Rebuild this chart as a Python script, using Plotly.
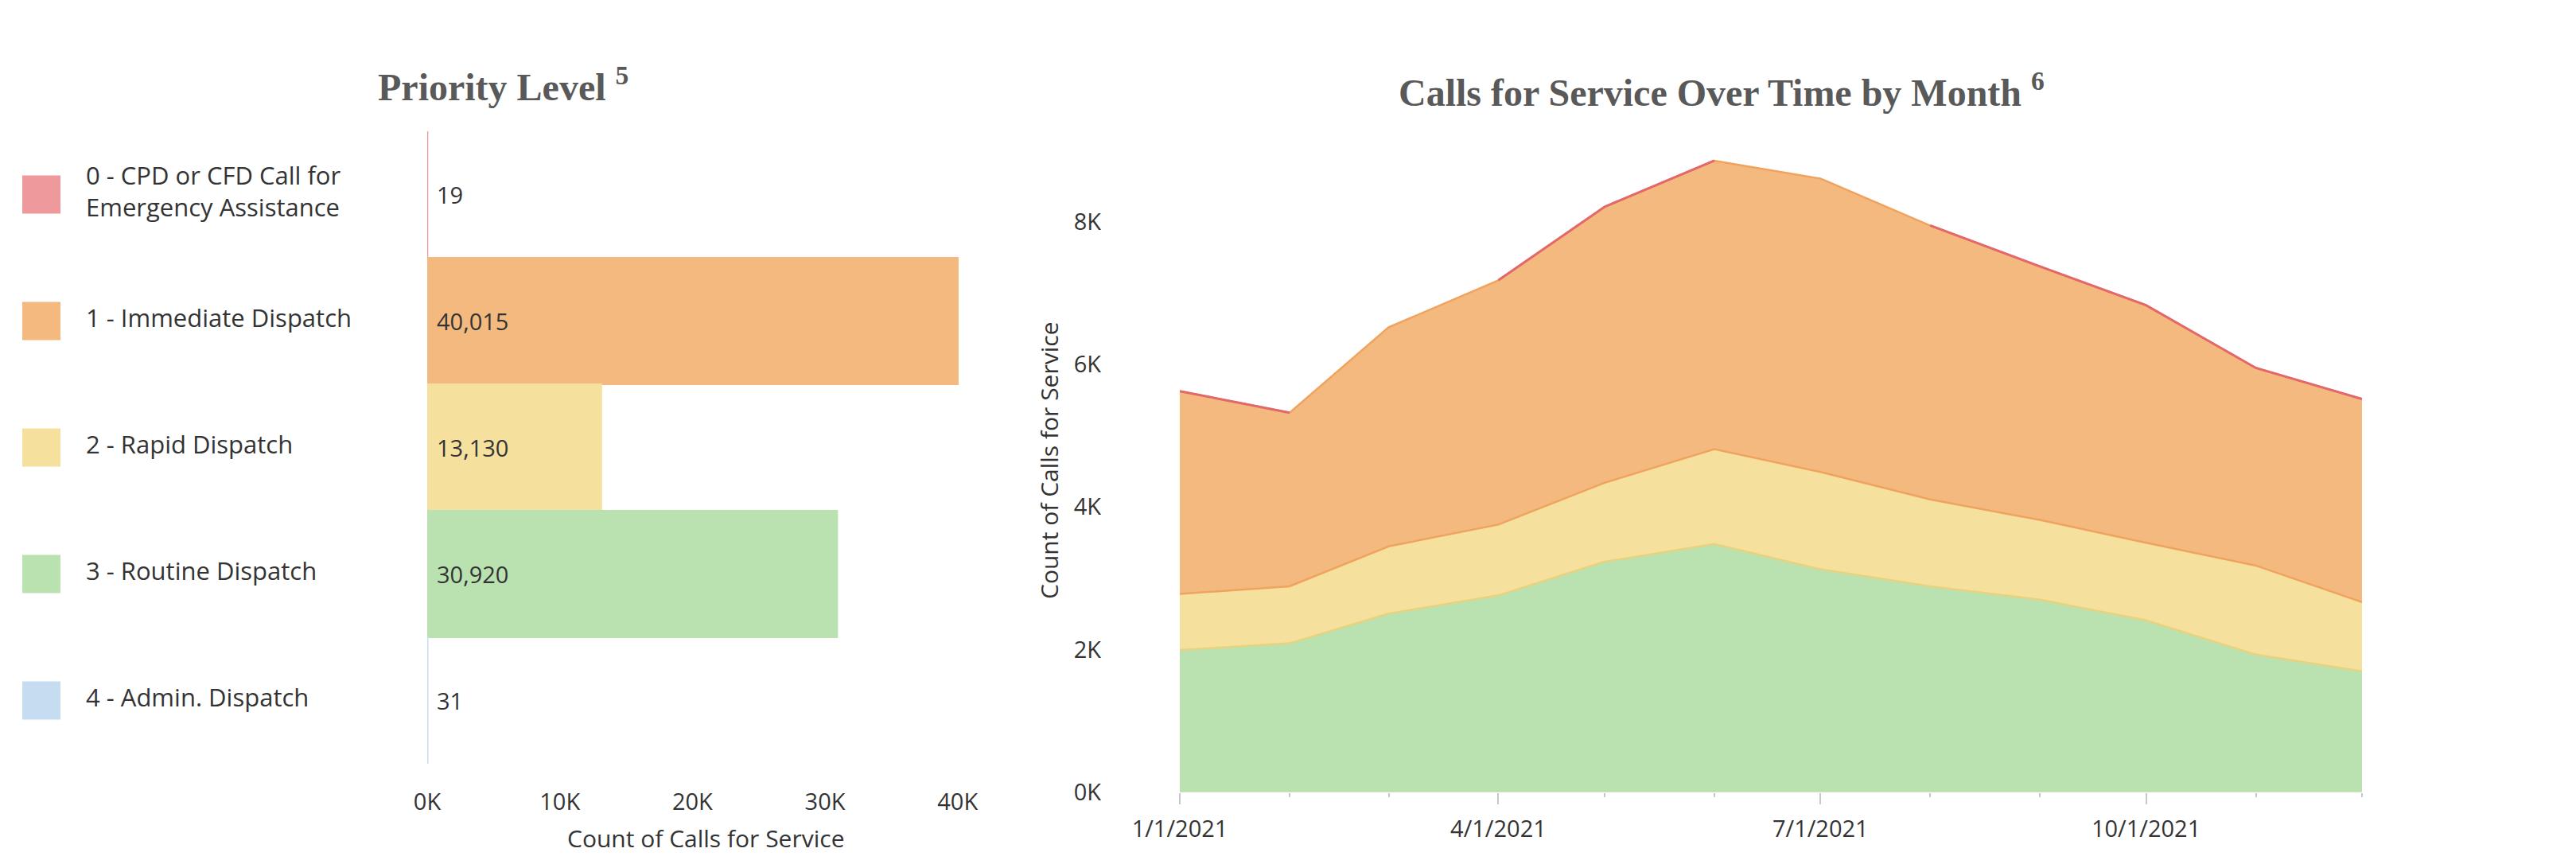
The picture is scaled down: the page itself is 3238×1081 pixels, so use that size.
import numpy as np
import plotly.graph_objects as go

# the page body keeps a default 8px margin, so the figure is 16px smaller than the window
PAGE_W, PAGE_H = 3238, 1081
BODY = 8
W, H = PAGE_W - 2 * BODY, PAGE_H - 2 * BODY

# ---------------- data ----------------
priority_levels = [
    "0 - CPD or CFD Call for<br>Emergency Assistance",
    "1 - Immediate Dispatch",
    "2 - Rapid Dispatch",
    "3 - Routine Dispatch",
    "4 - Admin. Dispatch",
]
priority_counts = [19, 40015, 13130, 30920, 31]
bar_tickvals = [0, 10000, 20000, 30000, 40000]
bar_ticktext = ["0K", "10K", "20K", "30K", "40K"]

months = ["2021-01-01", "2021-02-01", "2021-03-01", "2021-04-01", "2021-05-01", "2021-06-01",
          "2021-07-01", "2021-08-01", "2021-09-01", "2021-10-01", "2021-11-01", "2021-12-01"]
calls_p4 = [3, 2, 3, 2, 3, 3, 3, 2, 3, 3, 2, 2]
calls_p3 = [1992, 2088, 2504, 2760, 3230, 3478, 3125, 2887, 2698, 2408, 1929, 1695]
calls_p2 = [787, 799, 941, 992, 1106, 1330, 1363, 1217, 1118, 1088, 1248, 969]
calls_p1 = [2840, 2432, 3071, 3423, 3867, 4043, 4113, 3839, 3552, 3327, 2769, 2847]
calls_p0 = [2, 2, None, 2, 2, 2, None, 2, 2, 2, 2, 1]
area_tickvals = [0, 2000, 4000, 6000, 8000]
area_ticktext = ["0K", "2K", "4K", "6K", "8K"]

# ---------------- style ----------------
fill_colors = ["#EE9A9C", "#F4B97F", "#F5E09E", "#B9E2B0", "#C6DCF0"]
edge_red = "#E2686B"
edge_orange = "#F0A35E"
edge_yellow = "#E9D27E"
FONT = "Open Sans"
TXT = "#333333"
TITLE_C = "#595959"
TICK_SIZE = 29
LABEL_SIZE = 31
AXTITLE_SIZE = 30


def px_x(p):
    return (p - BODY) / W


def px_y(p):
    return 1 - (p - BODY) / H


fig = go.Figure()

# ---- bar chart (left) ----
fig.add_trace(go.Bar(
    x=priority_counts, y=priority_levels, orientation="h",
    marker=dict(color=fill_colors, line=dict(color=fill_colors, width=2)),
    width=1.0, xaxis="x", yaxis="y", showlegend=False, hoverinfo="x+y",
))
# legend column: colour squares and labels
fig.add_trace(go.Scatter(
    x=[52] * len(priority_levels), y=priority_levels, mode="markers",
    marker=dict(symbol="square", size=48, color=fill_colors, line=dict(width=0)),
    xaxis="x3", yaxis="y", showlegend=False, hoverinfo="skip",
))
fig.add_trace(go.Scatter(
    x=[108] * len(priority_levels), y=priority_levels, mode="text",
    text=priority_levels, textposition="middle right",
    textfont=dict(family=FONT, size=LABEL_SIZE, color=TXT),
    xaxis="x3", yaxis="y", showlegend=False, hoverinfo="skip",
))

# ---- stacked area (right) ----
fig.add_trace(go.Scatter(
    x=months, y=calls_p4, stackgroup="s", mode="lines",
    line=dict(width=0, color=fill_colors[4]), fillcolor=fill_colors[4],
    xaxis="x2", yaxis="y2", showlegend=False, name="4 - Admin. Dispatch",
))
fig.add_trace(go.Scatter(
    x=months, y=calls_p3, stackgroup="s", mode="lines",
    line=dict(width=2.5, color=edge_yellow), fillcolor=fill_colors[3],
    xaxis="x2", yaxis="y2", showlegend=False, name="3 - Routine Dispatch",
))
fig.add_trace(go.Scatter(
    x=months, y=calls_p2, stackgroup="s", mode="lines",
    line=dict(width=2.5, color=edge_orange), fillcolor=fill_colors[2],
    xaxis="x2", yaxis="y2", showlegend=False, name="2 - Rapid Dispatch",
))
fig.add_trace(go.Scatter(
    x=months, y=calls_p1, stackgroup="s", mode="lines",
    line=dict(width=2.5, color=edge_orange), fillcolor=fill_colors[1],
    xaxis="x2", yaxis="y2", showlegend=False, name="1 - Immediate Dispatch",
))
p0 = np.array([np.nan if v is None else v for v in calls_p0], dtype=float)
red_top = np.array(calls_p4) + np.array(calls_p3) + np.array(calls_p2) + np.array(calls_p1) + p0
fig.add_trace(go.Scatter(
    x=months, y=red_top, mode="lines", connectgaps=False,
    line=dict(width=3, color=edge_red),
    xaxis="x2", yaxis="y2", showlegend=False, name="0 - CPD or CFD Call for Emergency Assistance",
))

# ---------------- layout (positions in page pixels) ----------------
bar_x0, bar_x1 = 537, 1237
bar_y0, bar_y1 = 165, 960
area_x0, area_x1 = 1483, 2969
area_y0, area_y1 = 171, 996

value_labels = [
    dict(text=f"{v:,}", x=0, y=cat, xref="x", yref="y", xanchor="left", yanchor="middle",
         xshift=10, showarrow=False, font=dict(family=FONT, size=LABEL_SIZE - 2, color=TXT))
    for cat, v in zip(priority_levels, priority_counts)
]

fig.update_layout(
    template="none",
    width=W, height=H, autosize=False,
    margin=dict(l=0, r=0, t=0, b=0, pad=0),
    paper_bgcolor="white", plot_bgcolor="white",
    font=dict(family=FONT, color=TXT, size=TICK_SIZE),
    showlegend=False,
    xaxis=dict(
        domain=[px_x(bar_x0), px_x(bar_x1)], range=[0, 42000], anchor="y",
        tickvals=bar_tickvals, ticktext=bar_ticktext,
        showgrid=False, zeroline=False, showline=False, ticks="",
        tickfont=dict(family=FONT, size=TICK_SIZE, color=TXT),
        ticklabelstandoff=28, fixedrange=True, automargin=False,
    ),
    yaxis=dict(
        domain=[px_y(bar_y1), px_y(bar_y0)], anchor="x",
        type="category", categoryorder="array", categoryarray=priority_levels,
        range=[len(priority_levels) - 0.5, -0.5],
        showticklabels=False, showgrid=False, zeroline=False, showline=False, ticks="",
        fixedrange=True, automargin=False,
    ),
    xaxis3=dict(
        domain=[0, px_x(bar_x0)], range=[BODY, bar_x0], anchor="y",
        visible=False, fixedrange=True, automargin=False,
    ),
    xaxis2=dict(
        domain=[px_x(area_x0), px_x(area_x1)], anchor="y2",
        type="date", range=[months[0], months[-1]],
        tick0=months[0], dtick="M3", tickformat="%-m/%-d/%Y",
        ticks="outside", ticklen=14, tickwidth=1.5, tickcolor="#c8c8c8",
        minor=dict(ticks="outside", dtick="M1", ticklen=5, tickwidth=1.5, tickcolor="#c8c8c8"),
        showgrid=False, zeroline=False, showline=False,
        tickfont=dict(family=FONT, size=TICK_SIZE, color=TXT),
        ticklabelstandoff=6, automargin=False,
    ),
    yaxis2=dict(
        domain=[px_y(area_y1), px_y(area_y0)], anchor="x2",
        range=[0, 9200], tickvals=area_tickvals, ticktext=area_ticktext,
        showgrid=False, zeroline=False, showline=False, ticks="",
        tickfont=dict(family=FONT, size=TICK_SIZE, color=TXT),
        ticklabelstandoff=98, automargin=False,
    ),
    annotations=value_labels + [
        dict(text="<b>Priority Level <sup>5</sup></b>", x=px_x(632), y=px_y(106),
             xref="paper", yref="paper", xanchor="center", yanchor="middle", showarrow=False,
             font=dict(family="Liberation Serif", size=48, color=TITLE_C)),
        dict(text="<b>Calls for Service Over Time by Month <sup>6</sup></b>", x=px_x(2164), y=px_y(113),
             xref="paper", yref="paper", xanchor="center", yanchor="middle", showarrow=False,
             font=dict(family="Liberation Serif", size=48, color=TITLE_C)),
        dict(text="Count of Calls for Service", x=px_x(887), y=px_y(1053),
             xref="paper", yref="paper", xanchor="center", yanchor="middle", showarrow=False,
             font=dict(family=FONT, size=AXTITLE_SIZE, color=TXT)),
        dict(text="Count of Calls for Service", x=px_x(1318), y=px_y(579), textangle=-90,
             xref="paper", yref="paper", xanchor="center", yanchor="middle", showarrow=False,
             font=dict(family=FONT, size=AXTITLE_SIZE, color=TXT)),
    ],
)

fig.write_html("out.html")
